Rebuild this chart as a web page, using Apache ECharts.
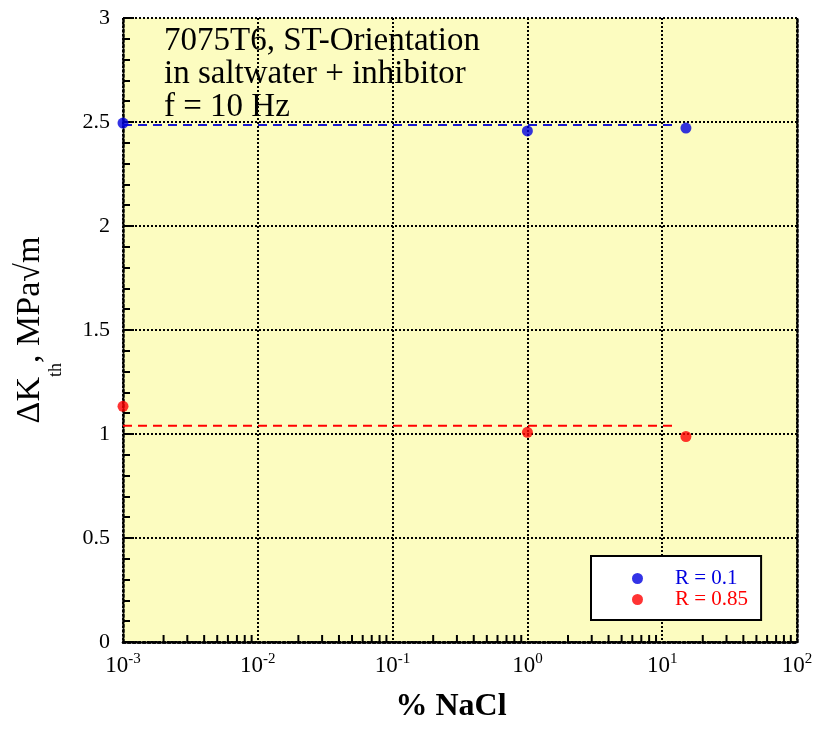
<!DOCTYPE html>
<html>
<head>
<meta charset="utf-8">
<script src="https://cdn.jsdelivr.net/npm/echarts@6/dist/echarts.min.js"></script>
<style>html,body{margin:0;padding:0;background:#fff;}#c{width:817px;height:732px;}</style>
</head>
<body>
<div id="c"></div>
<script>
// Data
const naclPct = [0.001, 1, 15];
const r01Values = [2.495, 2.457, 2.471];
const r085Values = [1.133, 1.008, 0.988];
const fitR01 = { x: [0.001, 13], y: 2.486 };
const fitR085 = { x: [0.001, 13], y: 1.04 };
const yTicks = [0, 0.5, 1, 1.5, 2, 2.5, 3];
const xDecades = [-3, -2, -1, 0, 1, 2];

const FONT = '"Liberation Serif", "Times New Roman", serif';
const chart = echarts.init(document.getElementById('c'));

const minorTickVals = [];
for (let d = xDecades[0]; d < xDecades[xDecades.length - 1]; d++) {
  for (let k = 2; k <= 9; k++) minorTickVals.push([k * Math.pow(10, d), 0]);
}

const axisLineDotted = { show: true, lineStyle: { color: '#000', width: 2.5, type: 'dotted' } };

chart.setOption({
  backgroundColor: '#fff',
  animation: false,
  title: {
    text: '7075T6, ST-Orientation\nin saltwater + inhibitor\nf = 10 Hz',
    left: 159, top: 20,
    textStyle: { fontFamily: FONT, fontSize: 33, fontWeight: 'normal', lineHeight: 33, color: '#000' }
  },
  legend: {
    orient: 'vertical',
    left: 591, top: 556,
    padding: [12, 13, 10, 41],
    itemGap: 0,
    itemWidth: 11, itemHeight: 11,
    backgroundColor: '#fff',
    borderColor: '#000', borderWidth: 2,
    textStyle: { fontFamily: FONT, fontSize: 21, lineHeight: 16, padding: [0, 0, 0, 27] },
    data: [
      { name: 'R = 0.1', icon: 'circle', textStyle: { color: '#0000e0' } },
      { name: 'R = 0.85', icon: 'circle', textStyle: { color: '#ff0000' } }
    ]
  },
  grid: { left: 123, right: 20, top: 18, bottom: 90, show: true, backgroundColor: '#fcfcc0', borderWidth: 0 },
  xAxis: [{
    type: 'log', logBase: 10,
    min: Math.pow(10, xDecades[0]), max: Math.pow(10, xDecades[xDecades.length - 1]),
    name: '% NaCl', nameLocation: 'middle', nameGap: 49, nameMoveOverlap: false,
    nameTextStyle: { fontFamily: FONT, fontSize: 32, fontWeight: 'bold', color: '#000', padding: [0, 18, 0, 0] },
    axisLine: axisLineDotted,
    axisTick: { show: false },
    splitLine: { show: true, lineStyle: { color: '#000', width: 2, type: 'dotted' } },
    axisLabel: {
      margin: 10,
      formatter: function (v) {
        const e = Math.round(Math.log10(v));
        return '{b|10}{s|' + e + '}';
      },
      rich: {
        b: { fontFamily: FONT, fontSize: 23, color: '#000', verticalAlign: 'bottom' },
        s: { fontFamily: FONT, fontSize: 15, color: '#000', verticalAlign: 'top', padding: [0, 0, 10, 0] }
      }
    }
  }, {
    type: 'log', logBase: 10, position: 'top',
    min: Math.pow(10, xDecades[0]), max: Math.pow(10, xDecades[xDecades.length - 1]),
    axisLine: axisLineDotted, axisTick: { show: false }, axisLabel: { show: false }, splitLine: { show: false }
  }],
  yAxis: [{
    type: 'value', min: yTicks[0], max: yTicks[yTicks.length - 1], interval: 0.5,
    name: '{a|ΔK}{sub|th}{a|, MPa√m}', nameLocation: 'middle', nameGap: 76, nameMoveOverlap: false,
    nameTextStyle: {
      rich: {
        a: { fontFamily: FONT, fontSize: 34, lineHeight: 34, color: '#000', verticalAlign: 'top' },
        sub: { fontFamily: FONT, fontSize: 18, lineHeight: 18, color: '#000', verticalAlign: 'top', padding: [34, 0, 0, 0] }
      }
    },
    axisLine: axisLineDotted,
    axisTick: { show: true, inside: true, length: 11, lineStyle: { color: '#000', width: 2 } },
    minorTick: { show: true, splitNumber: 5, length: 7, lineStyle: { color: '#000', width: 2 } },
    splitLine: { show: true, lineStyle: { color: '#000', width: 2, type: 'dotted' } },
    axisLabel: { margin: 13, fontFamily: FONT, fontSize: 22, color: '#000' }
  }, {
    type: 'value', position: 'right', min: yTicks[0], max: yTicks[yTicks.length - 1], interval: 0.5,
    axisLine: axisLineDotted, axisTick: { show: false }, axisLabel: { show: false }, splitLine: { show: false }
  }],
  series: [
    {
      name: 'fit01', type: 'line', data: fitR01.x.map(x => [x, fitR01.y]),
      showSymbol: false, symbol: 'none', silent: true, z: 3,
      lineStyle: { color: '#1a1ad0', width: 2, type: [9, 6] }
    },
    {
      name: 'fit085', type: 'line', data: fitR085.x.map(x => [x, fitR085.y]),
      showSymbol: false, symbol: 'none', silent: true, z: 3,
      lineStyle: { color: '#ff0000', width: 2, type: [9, 6] }
    },
    {
      name: 'R = 0.1', type: 'scatter', symbol: 'circle', symbolSize: 11, clip: false, z: 5,
      itemStyle: { color: '#0000e0' },
      data: naclPct.map((x, i) => [x, r01Values[i]])
    },
    {
      name: 'R = 0.85', type: 'scatter', symbol: 'circle', symbolSize: 11, clip: false, z: 5,
      itemStyle: { color: '#ff0000' },
      data: naclPct.map((x, i) => [x, r085Values[i]])
    },
    {
      name: 'minorX', type: 'custom', silent: true, clip: false, z: 4,
      data: minorTickVals,
      renderItem: function (params, api) {
        const p = api.coord([api.value(0), api.value(1)]);
        return { type: 'line', shape: { x1: p[0], y1: p[1], x2: p[0], y2: p[1] - 7 }, style: { stroke: '#000', lineWidth: 2 } };
      }
    }
  ]
});
</script>
</body>
</html>
